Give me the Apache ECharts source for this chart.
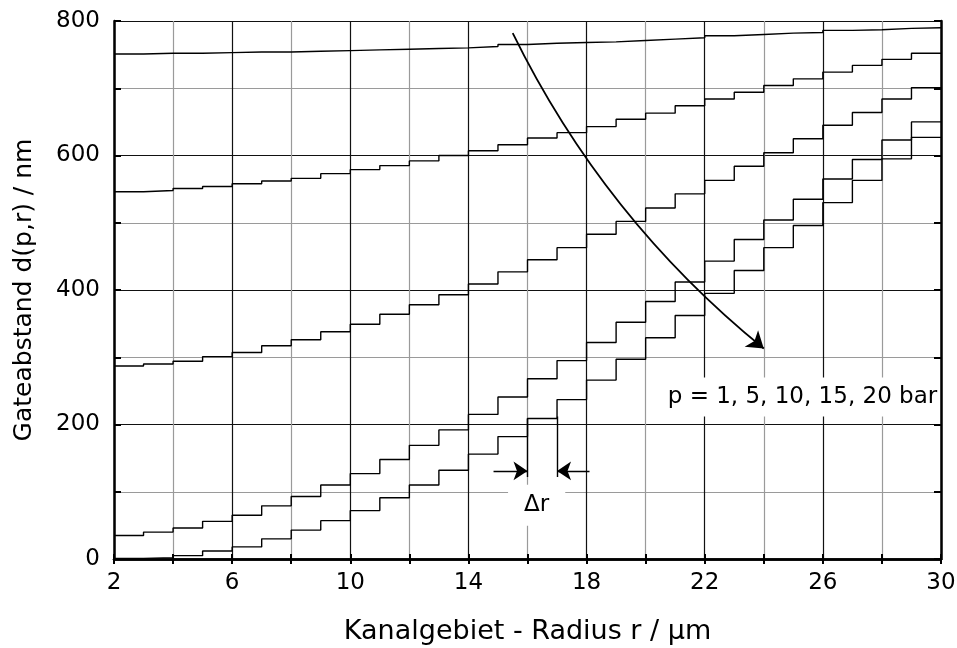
<!DOCTYPE html>
<html>
<head>
<meta charset="utf-8">
<script src="https://cdn.jsdelivr.net/npm/echarts@6/dist/echarts.min.js"></script>
<style>
  html, body { margin: 0; padding: 0; background: #fff; }
  #chart { width: 957px; height: 648px; }
</style>
</head>
<body>
<div id="chart"></div>
<script>
// step edges of the radius grid (µm), one more edge than values
const radiusEdges = [2, 3, 4, 5, 6, 7, 8, 9, 10, 11, 12, 13, 14, 15, 16,
  17, 18, 19, 20, 21, 22, 23, 24, 25, 26, 27, 28, 29, 30]

// gate distance d(p,r) in nm per radius step
const p1 = [751, 752, 752, 753, 754, 754, 755, 756, 757, 758, 759, 760, 762, 765,
  767, 768, 769, 771, 773, 775, 778, 780, 782, 783, 786, 787, 789, 790]
const p5 = [546, 548, 551, 554, 558, 562, 566, 573, 579, 585, 592, 600, 607, 616,
  626, 634, 643, 654, 663, 674, 684, 694, 704, 714, 724, 734, 743, 752]
const p10 = [287, 290, 294, 301, 307, 317, 326, 338, 349, 364, 378, 393, 409, 427,
  445, 463, 483, 502, 522, 543, 563, 584, 604, 625, 645, 664, 684, 701]
const p15 = [35, 40, 46, 56, 65, 79, 93, 110, 127, 148, 169, 192, 215, 241,
  268, 295, 322, 352, 383, 412, 443, 475, 504, 535, 565, 594, 623, 650]
const p20 = [1, 2, 5, 12, 18, 30, 43, 57, 72, 91, 110, 132, 156, 182,
  209, 237, 266, 297, 329, 362, 395, 429, 463, 496, 530, 563, 595, 627]

const xTicks = [2, 6, 10, 14, 18, 22, 26, 30]
const yTicks = [0, 200, 400, 600, 800]

const FONT = "DejaVu Sans"

function stepData(values) {
  const pts = values.map((v, i) => [radiusEdges[i], v])
  pts.push([radiusEdges[radiusEdges.length - 1], values[values.length - 1]])
  return pts
}

function stepSeries(name, values) {
  return {
    name: name,
    type: "line",
    step: "end",
    data: stepData(values),
    symbol: "none",
    lineStyle: { color: "#000", width: 1.4 },
    z: 3,
  }
}

const frameAxis = {
  axisLine: { show: true, lineStyle: { color: "#000", width: 2.5 } },
  axisTick: { show: true, inside: true, length: 5, lineStyle: { color: "#000", width: 2 } },
}

const chart = echarts.init(document.getElementById("chart"))

chart.setOption({
  animation: false,
  textStyle: { fontFamily: FONT },
  grid: { left: 114, right: 16, top: 21, bottom: 89, outerBoundsMode: "none", containLabel: false },
  xAxis: [
    {
      type: "value", min: 2, max: 30, interval: 2, position: "bottom",
      ...frameAxis,
      axisLabel: {
        color: "#000", fontSize: 23, fontFamily: FONT, margin: 13,
        formatter: (v) => (xTicks.includes(v) ? String(v) : ""),
      },
      splitLine: { show: true, lineStyle: { color: ["#111", "#9a9a9a"], width: 1.2 } },
      name: "Kanalgebiet - Radius r / \u00b5m",
      nameLocation: "middle",
      nameGap: 59,
      nameTextStyle: { color: "#000", fontSize: 27, fontFamily: FONT },
    },
    {
      type: "value", min: 2, max: 30, interval: 2, position: "top",
      ...frameAxis,
      axisLabel: { show: false },
      splitLine: { show: false },
    },
  ],
  yAxis: [
    {
      type: "value", min: 0, max: 800, interval: 100, position: "left",
      ...frameAxis,
      axisTick: { show: true, inside: true, length: 7, lineStyle: { color: "#000", width: 2 } },
      axisLabel: {
        color: "#000", fontSize: 23, fontFamily: FONT, margin: 14,
        formatter: (v) => (yTicks.includes(v) ? String(v) : ""),
      },
      splitLine: { show: true, lineStyle: { color: ["#111", "#9a9a9a"], width: 1.2 } },
      name: "Gateabstand d(p,r) / nm",
      nameLocation: "middle",
      nameGap: 77,
      nameTextStyle: { color: "#000", fontSize: 25, fontFamily: FONT },
    },
    {
      type: "value", min: 0, max: 800, interval: 100, position: "right",
      ...frameAxis,
      axisTick: { show: true, inside: true, length: 7, lineStyle: { color: "#000", width: 2 } },
      axisLabel: { show: false },
      splitLine: { show: false },
    },
  ],
  series: [
    stepSeries("p = 1 bar", p1),
    stepSeries("p = 5 bar", p5),
    stepSeries("p = 10 bar", p10),
    stepSeries("p = 15 bar", p15),
    stepSeries("p = 20 bar", p20),
    // pressure arrow
    {
      type: "lines",
      coordinateSystem: "cartesian2d",
      symbol: ["none", "arrow"],
      symbolSize: [8, 16],
      lineStyle: { color: "#000", width: 1.8, curveness: -0.11, opacity: 1 },
      data: [{ coords: [[15.5, 782], [24, 313]] }],
      z: 4,
    },
    // Δr markers
    {
      type: "lines",
      coordinateSystem: "cartesian2d",
      symbol: "none",
      lineStyle: { color: "#000", width: 1.4, opacity: 1 },
      data: [
        { coords: [[16, 209], [16, 122]] },
        { coords: [[17, 212], [17, 122]] },
      ],
      z: 4,
    },
    {
      type: "lines",
      coordinateSystem: "cartesian2d",
      symbol: ["none", "arrow"],
      symbolSize: [7, 14],
      lineStyle: { color: "#000", width: 1.4, opacity: 1 },
      data: [
        { coords: [[14.85, 131], [16, 131]] },
        { coords: [[18.1, 131], [17, 131]] },
      ],
      z: 4,
    },
    // text labels with white boxes
    {
      type: "scatter",
      symbolSize: 0,
      silent: true,
      z: 5,
      itemStyle: { opacity: 1 },
      label: {
        show: true, position: "inside", color: "#000", opacity: 1,
        fontSize: 23, fontFamily: FONT, backgroundColor: "#fff",
        formatter: (p) => p.data.text,
      },
      emphasis: { disabled: true },
      data: [
        { value: [25.31, 241], text: "p = 1, 5, 10, 15, 20 bar", label: { padding: [8, 2] } },
        { value: [16.31, 80], text: "\u0394r", label: { padding: [9, 16] } },
      ],
    },
  ],
})
</script>
</body>
</html>
